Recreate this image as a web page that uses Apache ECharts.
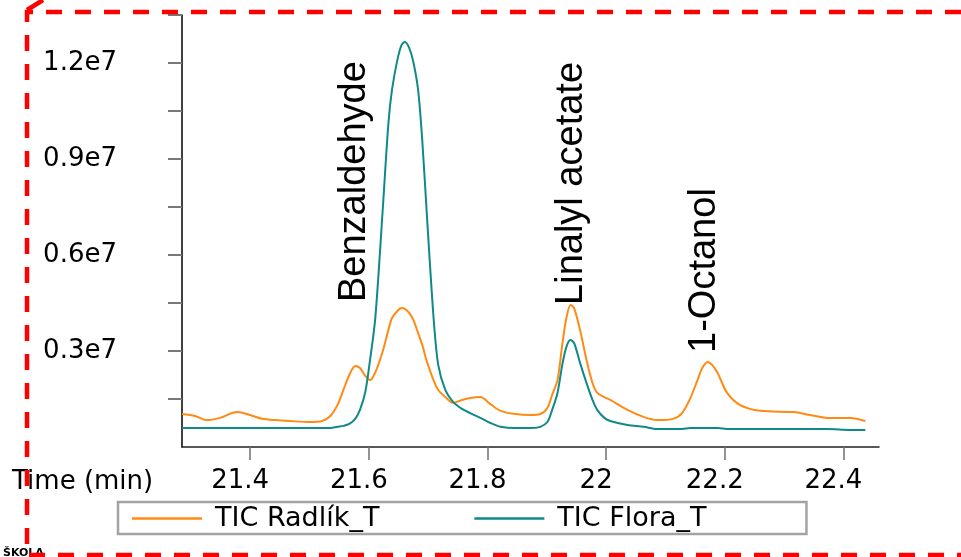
<!DOCTYPE html>
<html>
<head>
<meta charset="utf-8">
<script src="https://cdn.jsdelivr.net/npm/echarts@6/dist/echarts.min.js"></script>
<style>
html, body { margin: 0; padding: 0; background: #fff; }
#main { width: 961px; height: 557px; }
</style>
</head>
<body>
<div id="main"></div>
<script>
// retention time (min)
var times = [21.285, 21.307, 21.327, 21.349, 21.378, 21.400, 21.420, 21.442, 21.467, 21.501,
  21.521, 21.535, 21.547, 21.557, 21.567, 21.577, 21.585, 21.594, 21.602, 21.611,
  21.623, 21.633, 21.639, 21.648, 21.655, 21.661, 21.668, 21.675, 21.683, 21.690,
  21.698, 21.709, 21.717, 21.729, 21.742, 21.757, 21.771, 21.788, 21.805, 21.822,
  21.847, 21.872, 21.889, 21.901, 21.909, 21.918, 21.926, 21.933, 21.940, 21.946,
  21.956, 21.968, 21.977, 21.985, 21.997, 22.007, 22.036, 22.063, 22.086, 22.113,
  22.128, 22.142, 22.154, 22.162, 22.171, 22.179, 22.188, 22.204, 22.226, 22.260,
  22.316, 22.344, 22.373, 22.412, 22.437];

// TIC Radlík_T
var radlik = [1.03e6, 0.97e6, 0.84e6, 0.91e6, 1.09e6, 1.00e6, 0.88e6, 0.84e6, 0.81e6, 0.78e6,
  0.81e6, 0.97e6, 1.31e6, 1.78e6, 2.25e6, 2.53e6, 2.47e6, 2.22e6, 2.09e6, 2.34e6,
  2.97e6, 3.66e6, 4.03e6, 4.25e6, 4.34e6, 4.31e6, 4.19e6, 3.97e6, 3.56e6, 3.19e6,
  2.66e6, 2.09e6, 1.78e6, 1.56e6, 1.38e6, 1.47e6, 1.53e6, 1.56e6, 1.34e6, 1.13e6,
  1.03e6, 1.00e6, 1.03e6, 1.22e6, 1.63e6, 2.09e6, 3.19e6, 4.03e6, 4.44e6, 4.34e6,
  3.66e6, 2.63e6, 2.00e6, 1.69e6, 1.56e6, 1.47e6, 1.16e6, 0.94e6, 0.84e6, 0.88e6,
  1.06e6, 1.53e6, 2.09e6, 2.47e6, 2.66e6, 2.56e6, 2.31e6, 1.69e6, 1.31e6, 1.13e6,
  1.09e6, 1.00e6, 0.91e6, 0.91e6, 0.81e6];

// TIC Flora_T
var flora = [0.59e6, 0.59e6, 0.59e6, 0.59e6, 0.59e6, 0.59e6, 0.59e6, 0.59e6, 0.59e6, 0.59e6,
  0.59e6, 0.59e6, 0.63e6, 0.66e6, 0.72e6, 0.88e6, 1.16e6, 1.72e6, 2.72e6, 4.06e6,
  7.31e6, 10.13e6, 11.16e6, 12.09e6, 12.56e6, 12.66e6, 12.47e6, 12.03e6, 11.16e6, 9.59e6,
  7.19e6, 4.06e6, 2.56e6, 1.78e6, 1.41e6, 1.19e6, 1.06e6, 0.91e6, 0.75e6, 0.63e6,
  0.59e6, 0.59e6, 0.63e6, 0.78e6, 1.16e6, 1.69e6, 2.56e6, 3.13e6, 3.34e6, 3.25e6,
  2.63e6, 1.94e6, 1.47e6, 1.16e6, 0.91e6, 0.81e6, 0.69e6, 0.63e6, 0.56e6, 0.56e6,
  0.56e6, 0.59e6, 0.59e6, 0.59e6, 0.59e6, 0.59e6, 0.59e6, 0.56e6, 0.56e6, 0.56e6,
  0.56e6, 0.56e6, 0.56e6, 0.53e6, 0.53e6];

var seriesNames = ['TIC Radlík_T', 'TIC Flora_T'];
var seriesColors = ['#ff8a14', '#0f8a88'];
var xTicks = [21.4, 21.6, 21.8, 22, 22.2, 22.4];
var yTicks = [1.5e6, 3e6, 4.5e6, 6e6, 7.5e6, 9e6, 10.5e6, 12e6, 13.5e6];
var yLabels = [3e6, 6e6, 9e6, 12e6];

// peak annotations: name, time, value where the text starts
var peakNames = ['Benzaldehyde', 'Linalyl acetate', '1-Octanol'];
var peakTimes = [21.575, 21.941, 22.166];
var peakStart = [4.53e6, 4.44e6, 2.94e6];

var tickFont = 'DejaVu Sans';

function pairs(ys) {
  return times.map(function (t, i) { return [t, ys[i]]; });
}

var chart = echarts.init(document.getElementById('main'));
chart.setOption({
  animation: false,
  backgroundColor: '#fff',
  grid: { left: 182, right: 82, top: 15, bottom: 110 },
  legend: {
    data: seriesNames.map(function (n) { return { name: n, icon: 'rect' }; }),
    left: 118,
    top: 502,
    orient: 'horizontal',
    padding: [3, 100, 2, 14],
    borderColor: '#a3a3a3',
    borderWidth: 2.5,
    itemWidth: 70,
    itemHeight: 2.5,
    itemGap: 95,
    textStyle: { fontFamily: tickFont, fontSize: 27, color: '#000', padding: [0, 0, 0, 8] }
  },
  xAxis: {
    type: 'value',
    min: 21.285,
    max: 22.46,
    axisLine: { show: true, lineStyle: { color: '#222', width: 1.5 } },
    axisTick: { show: true, customValues: xTicks, length: 13, lineStyle: { color: '#707070', width: 1.5 } },
    axisLabel: {
      customValues: xTicks,
      margin: 21,
      padding: [0, 20, 0, 0],
      fontFamily: tickFont,
      fontSize: 26,
      color: '#000',
      formatter: function (v) { return String(+v.toFixed(1)); }
    },
    splitLine: { show: false }
  },
  yAxis: {
    type: 'value',
    min: 0,
    max: 1.35e7,
    axisLine: { show: true, lineStyle: { color: '#000', width: 1.5 } },
    axisTick: { show: true, customValues: yTicks, length: 14, lineStyle: { color: '#777', width: 2 } },
    axisLabel: {
      customValues: yLabels,
      margin: 65,
      fontFamily: tickFont,
      fontSize: 26,
      color: '#000',
      formatter: function (v) { return (v / 1e7).toFixed(1) + 'e7'; }
    },
    splitLine: { show: false }
  },
  series: [
    {
      name: seriesNames[0],
      type: 'line',
      data: pairs(radlik),
      symbol: 'none',
      smooth: 0.3,
      lineStyle: { color: seriesColors[0], width: 2 },
      itemStyle: { color: seriesColors[0] },
      z: 2
    },
    {
      name: seriesNames[1],
      type: 'line',
      data: pairs(flora),
      symbol: 'none',
      smooth: 0.3,
      lineStyle: { color: seriesColors[1], width: 2 },
      itemStyle: { color: seriesColors[1] },
      z: 3
    }
  ]
});

// annotations and frame
var graphics = [];
peakNames.forEach(function (name, i) {
  var p = chart.convertToPixel({ gridIndex: 0 }, [peakTimes[i], peakStart[i]]);
  graphics.push({
    type: 'text',
    x: p[0],
    y: p[1],
    rotation: Math.PI / 2,
    style: {
      text: name,
      fontFamily: 'Liberation Sans',
      fontSize: 38,
      fill: '#000',
      align: 'left',
      verticalAlign: 'middle'
    },
    z: 10
  });
});
graphics.push({
  type: 'text',
  left: 12,
  top: 469,
  style: { text: 'Time (min)', fontFamily: tickFont, fontSize: 26, fill: '#000' },
  z: 10
});
graphics.push({
  type: 'text',
  left: 3,
  top: 548,
  style: { text: 'ŠKOLA', fontFamily: tickFont, fontSize: 11, fontWeight: 'bold', fill: '#000' },
  z: 10
});
graphics.push({
  type: 'polyline',
  shape: { points: [[961, 12], [27, 12], [27, 555], [961, 555]] },
  style: { stroke: '#ff0000', lineWidth: 4.5, lineDash: [16, 13], fill: null },
  z: 20
});
graphics.push({
  type: 'line',
  shape: { x1: 27, y1: 10, x2: 43, y2: 0 },
  style: { stroke: '#ff0000', lineWidth: 4.5 },
  z: 20
});
chart.setOption({ graphic: graphics });
</script>
</body>
</html>
